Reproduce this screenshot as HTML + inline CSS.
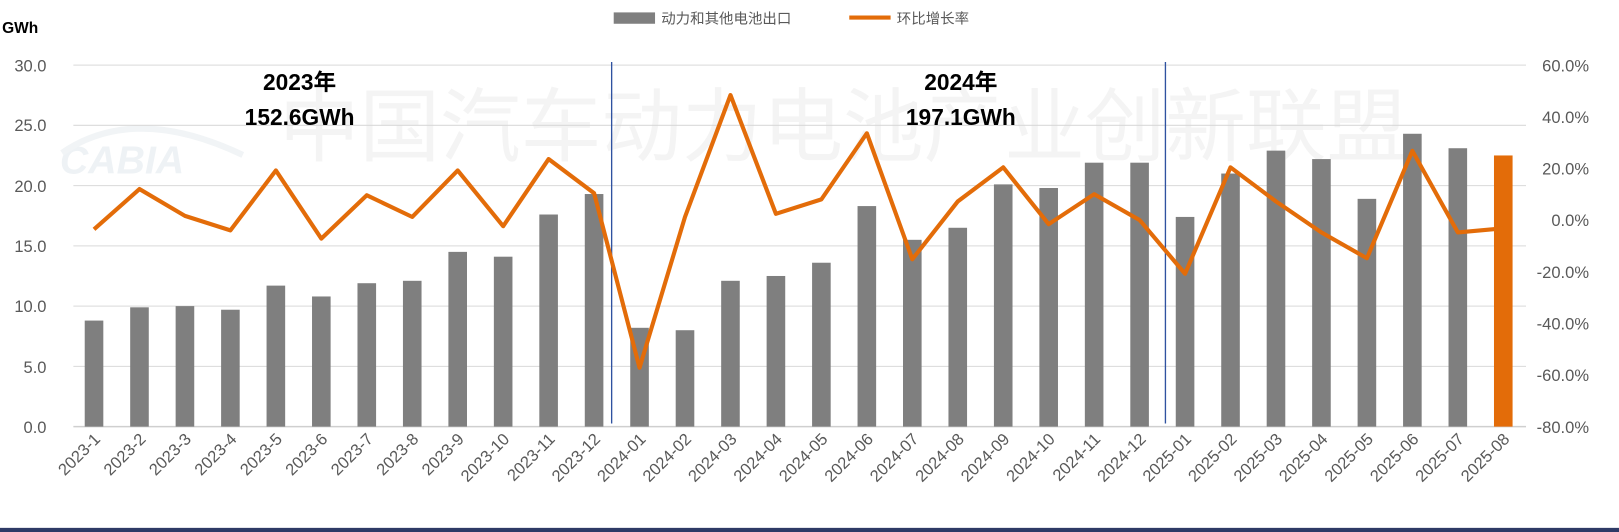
<!DOCTYPE html>
<html><head><meta charset="utf-8"><style>
html,body{margin:0;padding:0;background:#fff;}
svg{display:block;}
text{font-family:"Liberation Sans","Noto Sans CJK SC",sans-serif;}
</style></head><body>
<svg width="1619" height="532" viewBox="0 0 1567 515" preserveAspectRatio="none" xmlns="http://www.w3.org/2000/svg">
<rect width="1567" height="515" fill="#fff"/>
<text x="270" y="150" font-size="78" fill="#f4f4f4">中国汽车动力电池产业创新联盟</text>
<text x="58" y="168" font-size="38" font-style="italic" font-weight="bold" fill="#eef2f5">CABIA</text>
<path d="M60 148 Q130 100 235 150" stroke="#f1f4f6" stroke-width="6" fill="none"/>
<g stroke="#d9d9d9" stroke-width="1">
<line x1="71" y1="63" x2="1477" y2="63"/>
<line x1="71" y1="121.3" x2="1477" y2="121.3"/>
<line x1="71" y1="179.7" x2="1477" y2="179.7"/>
<line x1="71" y1="238" x2="1477" y2="238"/>
<line x1="71" y1="296.3" x2="1477" y2="296.3"/>
<line x1="71" y1="354.7" x2="1477" y2="354.7"/>
<line x1="71" y1="413" x2="1477" y2="413" stroke="#cfcfcf" stroke-width="1.5"/>
</g>
<g font-size="16" fill="#595959" text-anchor="end">
<text x="45" y="69">30.0</text><text x="45" y="127">25.0</text><text x="45" y="186">20.0</text><text x="45" y="244">15.0</text><text x="45" y="302">10.0</text><text x="45" y="361">5.0</text><text x="45" y="419">0.0</text>
</g>
<g font-size="16" fill="#595959" text-anchor="end">
<text x="1538" y="69">60.0%</text><text x="1538" y="119">40.0%</text><text x="1538" y="169">20.0%</text><text x="1538" y="219">0.0%</text><text x="1538" y="269">-20.0%</text><text x="1538" y="319">-40.0%</text><text x="1538" y="369">-60.0%</text><text x="1538" y="419">-80.0%</text>
</g>
<text x="2" y="32" font-size="15" font-weight="bold" fill="#000">GWh</text>
<rect x="594" y="12" width="40" height="11" fill="#7f7f7f"/>
<text x="640" y="23" font-size="14" fill="#595959">动力和其他电池出口</text>
<line x1="822" y1="17" x2="862" y2="17" stroke="#e36c09" stroke-width="4"/>
<text x="868" y="23" font-size="14" fill="#595959">环比增长率</text>
<g fill="#7f7f7f" id="bars"></g>
<line x1="592" y1="60" x2="592" y2="410" stroke="#2f52a0" stroke-width="1.3"/>
<line x1="1128" y1="60" x2="1128" y2="410" stroke="#2f52a0" stroke-width="1.3"/>
<polyline id="ln" fill="none" stroke="#e36c09" stroke-width="4" stroke-linejoin="round"/>
<g id="xl" font-size="16" fill="#595959"></g>
<g font-size="22" font-weight="bold" fill="#000" text-anchor="middle">
<text x="290" y="87">2023年</text><text x="290" y="121">152.6GWh</text>
<text x="930" y="87">2024年</text><text x="930" y="121">197.1GWh</text>
</g>
<rect x="0" y="511" width="1567" height="4" fill="#2e3a66"/>
</svg>
<script>
var v=[8.8,9.9,10.0,9.7,11.7,10.8,11.9,12.1,14.5,14.1,17.6,19.3,8.2,8.0,12.1,12.5,13.6,18.3,15.5,16.5,20.1,19.8,21.9,21.9,17.4,21.0,22.9,22.2,18.9,24.3,23.1,22.5];
var ly=[222,183,209,223,165,231,189,210,165,219,154,187,356,210,92,207,193,129,251,195,162,217,188,213,265,162,195,225,250,146,225,221];
var lab=[];for(var i=1;i<=12;i++)lab.push('2023-'+i);for(i=1;i<=12;i++)lab.push('2024-'+(i<10?'0':'')+i);for(i=1;i<=8;i++)lab.push('2025-0'+i);
var ns="http://www.w3.org/2000/svg",b=document.getElementById('bars'),x=document.getElementById('xl'),pts=[];
for(i=0;i<32;i++){var c=91+44*i,h=v[i]*11.667;var r=document.createElementNS(ns,'rect');r.setAttribute('x',c-9);r.setAttribute('y',413-h);r.setAttribute('width',18);r.setAttribute('height',h);if(i==31)r.setAttribute('fill','#e36c09');b.appendChild(r);
pts.push(c+','+ly[i]);
var t=document.createElementNS(ns,'text');t.setAttribute('transform','translate('+(c+7)+',426) rotate(-45)');t.setAttribute('text-anchor','end');t.textContent=lab[i];x.appendChild(t);}
document.getElementById('ln').setAttribute('points',pts.join(' '));
</script>
</body></html>
